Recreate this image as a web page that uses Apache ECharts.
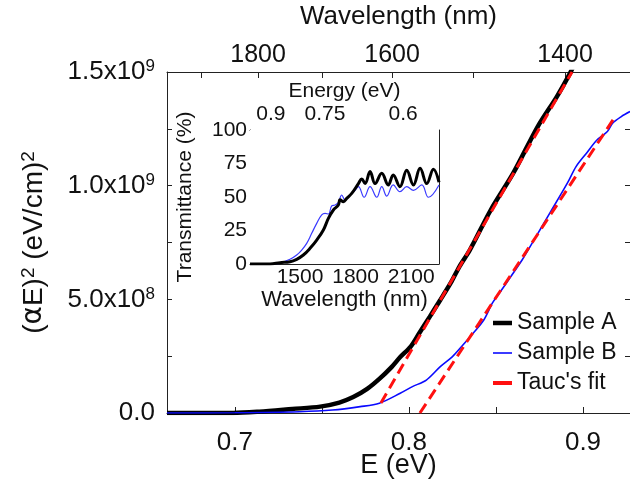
<!DOCTYPE html>
<html>
<head>
<meta charset="UTF-8">
<title>Tauc plot</title>
<script src="https://cdn.jsdelivr.net/npm/echarts@6/dist/echarts.min.js"></script>
<style>
html, body { margin: 0; padding: 0; background: #fff; }
#chart { width: 630px; height: 482px; }
</style>
</head>
<body>
<div id="chart"></div>
<script>
// main plot, Sample A
var aE   = [0.661, 0.699, 0.714, 0.733, 0.749, 0.760, 0.768, 0.776, 0.783, 0.790, 0.795, 0.801, 0.806, 0.812, 0.818, 0.824, 0.829, 0.835, 0.847, 0.860, 0.874, 0.885, 0.8925, 0.896];
var aVal = [0, 0, 5.7e6, 1.76e7, 2.8e7, 4.6e7, 7.0e7, 1.06e8, 1.50e8, 2.02e8, 2.46e8, 2.92e8, 3.52e8, 4.24e8, 4.97e8, 5.72e8, 6.44e8, 7.17e8, 8.93e8, 1.056e9, 1.26e9, 1.392e9, 1.494e9, 1.55e9];
// main plot, Sample B
var bE   = [0.661, 0.700, 0.737, 0.756, 0.772, 0.783, 0.795, 0.802, 0.810, 0.818, 0.825, 0.831, 0.837, 0.843, 0.848, 0.852, 0.865, 0.873, 0.881, 0.891, 0.896, 0.902, 0.908, 0.914, 0.917, 0.922, 0.927];
var bVal = [0, 1e6, 5.7e6, 1.3e7, 2.8e7, 4.3e7, 8.7e7, 1.16e8, 1.45e8, 2.04e8, 2.48e8, 2.99e8, 3.52e8, 4.09e8, 4.84e8, 5.28e8, 6.73e8, 7.76e8, 8.80e8, 1.011e9, 1.084e9, 1.143e9, 1.201e9, 1.238e9, 1.275e9, 1.304e9, 1.326e9];
// Tauc fits
var fitAE = [0.7839, 0.8937];
var fitAVal = [4.4e7, 1.5e9];
var fitBE = [0.8063, 0.919];
var fitBVal = [0, 1.31e9];

// tick labels
var xLabels = [0.7, 0.8, 0.9];
var xTicks = [0.7, 0.75, 0.8, 0.85, 0.9];
var yLabels = [0, 5e8, 1e9, 1.5e9];
var topWl = [1900, 1800, 1700, 1600, 1500, 1400];
var topE  = [0.6805, 0.7133, 0.7500, 0.7903, 0.8368, 0.8897];
var topLabelWl = [1800, 1600, 1400];

// inset: transmittance vs wavelength
var insA_L = [1230, 1338, 1392, 1446, 1482, 1518, 1554, 1590, 1626, 1653, 1680, 1707, 1716, 1734, 1752, 1779, 1815, 1833, 1851, 1878, 1905, 1941, 1976, 2003, 2039, 2076, 2112, 2148, 2184, 2220, 2250];
var insA_T = [0, 0, 1, 1.7, 3.5, 6.7, 11.7, 17.9, 25.4, 34, 40.3, 44, 48, 46.5, 49, 52.7, 60, 63.5, 60, 69, 60, 67.7, 59, 66.4, 57.7, 70, 59, 71.4, 60, 70.7, 61];
var insB_L = [1230, 1374, 1410, 1446, 1482, 1509, 1536, 1563, 1590, 1617, 1635, 1653, 1671, 1689, 1707, 1725, 1743, 1770, 1797, 1815, 1846, 1878, 1914, 1941, 1968, 2003, 2039, 2076, 2112, 2157, 2193, 2250];
var insB_T = [0, 0, 1.7, 3.5, 6.7, 10.4, 15.4, 22.9, 30.3, 36.6, 37.8, 37.3, 43.3, 44, 46, 51.5, 47.8, 51.5, 55, 57.7, 49.8, 57.7, 49.8, 57.7, 50.7, 59, 54, 57.7, 55, 59, 49.8, 59];
var insTLabels = [0, 25, 50, 75, 100];
var insXLabels = [1500, 1800, 2100];
var insEnergy = [0.9, 0.75, 0.6];
var insEnergyWl = [1343, 1635, 2056];

function zip(xs, ys) {
	return xs.map(function (x, i) { return [x, ys[i]]; });
}

function sci(v) {
	if (v === 0) return '{b|0.0}';
	var e = Math.floor(Math.log10(v) + 1e-9);
	var m = (v / Math.pow(10, e)).toFixed(1);
	return '{b|' + m + 'x10}{s|' + e + '}';
}

function nearest(list, v) {
	var best = 0;
	for (var i = 0; i < list.length; i++) {
		if (Math.abs(list[i] - v) < Math.abs(list[best] - v)) best = i;
	}
	return best;
}

var FONT = 'Liberation Sans, Arial, sans-serif';
var rich = {
	b: { fontSize: 26, fontFamily: FONT, color: '#111', lineHeight: 28 },
	s: { fontSize: 17, fontFamily: FONT, color: '#111', verticalAlign: 'top', lineHeight: 28 }
};
var richName = {
	b: { fontSize: 28, fontFamily: FONT, color: '#111', lineHeight: 30 },
	a: { fontSize: 28, fontFamily: 'DejaVu Sans', color: '#111', lineHeight: 30 },
	s: { fontSize: 19, fontFamily: FONT, color: '#111', verticalAlign: 'top', lineHeight: 30 }
};
var lineCol = '#222';
var axLine = { show: true, onZero: false, lineStyle: { color: lineCol, width: 1 } };

var chart = echarts.init(document.getElementById('chart'), null, { renderer: 'canvas' });

chart.setOption({
	animation: false,
	backgroundColor: '#fff',
	grid: [
		{ left: 167, top: 72, width: 463, height: 341, show: false, containLabel: false, outerBoundsMode: 'none' },
		{ left: 250, top: 130, width: 189, height: 134, show: true, backgroundColor: '#fff', borderWidth: 0, z: 5,
			containLabel: false, outerBoundsMode: 'none' }
	],
	legend: {
		orient: 'vertical',
		left: 493,
		top: 311,
		padding: 0,
		itemWidth: 19,
		itemHeight: 14,
		itemGap: 6,
		textStyle: { fontSize: 23, lineHeight: 24, color: '#111', fontFamily: FONT },
		data: [
			{ name: 'Sample A', icon: 'path://M0,0H19V4.5H0Z' },
			{ name: 'Sample B', icon: 'path://M0,0H19V1.6H0Z' },
			{ name: "Tauc's fit", icon: 'path://M0,0H19V4H0Z' }
		]
	},
	xAxis: [
		{
			type: 'value', gridIndex: 0, min: 0.661, max: 0.927, position: 'bottom',
			name: 'E (eV)', nameLocation: 'middle', nameGap: 39, nameMoveOverlap: false,
			nameTextStyle: { fontSize: 27, fontFamily: FONT, color: '#111' },
			axisLine: axLine,
			axisTick: { inside: true, length: 6, customValues: xTicks, lineStyle: { color: lineCol } },
			axisLabel: { customValues: xLabels, margin: 17, fontSize: 26, fontFamily: FONT, color: '#111',
				formatter: function (v) { return v.toFixed(1); } },
			splitLine: { show: false }
		},
		{
			type: 'value', gridIndex: 0, min: 0.661, max: 0.927, position: 'top',
			name: 'Wavelength (nm)', nameLocation: 'middle', nameGap: 42, nameMoveOverlap: false,
			nameTextStyle: { fontSize: 26, fontFamily: FONT, color: '#111' },
			axisLine: axLine,
			axisTick: { inside: true, length: 6, customValues: topE, lineStyle: { color: lineCol } },
			axisLabel: {
				customValues: topLabelWl.map(function (w) { return topE[topWl.indexOf(w)]; }),
				margin: 4, fontSize: 25, fontFamily: FONT, color: '#111',
				formatter: function (v) { return String(topWl[nearest(topE, v)]); }
			},
			splitLine: { show: false }
		},
		{
			type: 'value', gridIndex: 1, min: 1230, max: 2250, position: 'bottom',
			name: 'Wavelength (nm)', nameLocation: 'middle', nameGap: 25, nameMoveOverlap: false,
			nameTextStyle: { fontSize: 22, fontFamily: FONT, color: '#111' },
			axisLine: axLine,
			axisTick: { inside: true, length: 4, customValues: insXLabels, lineStyle: { color: lineCol } },
			axisLabel: { customValues: insXLabels, margin: 3, fontSize: 21, fontFamily: FONT, color: '#111',
				formatter: function (v) { return String(v); } },
			splitLine: { show: false }
		},
		{
			type: 'value', gridIndex: 1, min: 1230, max: 2250, position: 'top',
			name: 'Energy (eV)', nameLocation: 'middle', nameGap: 28, nameMoveOverlap: false,
			nameTextStyle: { fontSize: 21, fontFamily: FONT, color: '#111' },
			axisLine: axLine,
			axisTick: { show: false },
			axisLabel: {
				customValues: insEnergyWl, margin: 5, fontSize: 21, fontFamily: FONT, color: '#111',
				formatter: function (v) { return String(insEnergy[nearest(insEnergyWl, v)]); }
			},
			splitLine: { show: false }
		}
	],
	yAxis: [
		{
			type: 'value', gridIndex: 0, min: 0, max: 1.5e9, interval: 2.5e8, position: 'left',
			name: '{b|(}{a|α}{b|E)}{s|2}{b| (eV/cm)}{s|2}', nameLocation: 'middle', nameGap: 118, nameRotate: 90,
			nameMoveOverlap: false,
			nameTextStyle: { rich: richName },
			axisLine: axLine,
			axisTick: { inside: true, length: 5, lineStyle: { color: lineCol } },
			axisLabel: { customValues: yLabels, margin: 12, formatter: sci, rich: rich },
			splitLine: { show: false }
		},
		{
			type: 'value', gridIndex: 0, min: 0, max: 1.5e9, interval: 2.5e8, position: 'right',
			axisLine: axLine,
			axisTick: { inside: true, length: 5, lineStyle: { color: lineCol } },
			axisLabel: { show: false },
			splitLine: { show: false }
		},
		{
			type: 'value', gridIndex: 1, min: 0, max: 100, interval: 12.5, position: 'left',
			name: 'Transmittance (%)', nameLocation: 'middle', nameGap: 54, nameRotate: 90,
			nameMoveOverlap: false,
			nameTextStyle: { fontSize: 21, fontFamily: FONT, color: '#111' },
			axisLine: axLine,
			axisTick: { inside: true, length: 3, lineStyle: { color: lineCol } },
			axisLabel: { customValues: insTLabels, margin: 3, fontSize: 21, fontFamily: FONT, color: '#111' },
			splitLine: { show: false }
		},
		{
			type: 'value', gridIndex: 1, min: 0, max: 100, interval: 12.5, position: 'right',
			axisLine: axLine,
			axisTick: { inside: true, length: 3, lineStyle: { color: lineCol } },
			axisLabel: { show: false },
			splitLine: { show: false }
		}
	],
	series: [
		{
			name: 'Sample A', type: 'line', xAxisIndex: 0, yAxisIndex: 0,
			data: zip(aE, aVal), showSymbol: false, symbol: 'none', smooth: 0.3,
			lineStyle: { color: '#000', width: 4.5 }, itemStyle: { color: '#000' }, z: 2
		},
		{
			name: 'Sample B', type: 'line', xAxisIndex: 0, yAxisIndex: 0,
			data: zip(bE, bVal), showSymbol: false, symbol: 'none', smooth: 0.3,
			lineStyle: { color: '#0a0aff', width: 1.6 }, itemStyle: { color: '#0a0aff' }, z: 3
		},
		{
			name: "Tauc's fit", type: 'line', xAxisIndex: 0, yAxisIndex: 0,
			data: zip(fitAE, fitAVal), showSymbol: false, symbol: 'none',
			lineStyle: { color: '#ff1010', width: 3, type: [11, 6] }, itemStyle: { color: '#ff1010' }, z: 4
		},
		{
			name: "Tauc's fit", type: 'line', xAxisIndex: 0, yAxisIndex: 0,
			data: zip(fitBE, fitBVal), showSymbol: false, symbol: 'none',
			lineStyle: { color: '#ff1010', width: 3, type: [11, 6] }, itemStyle: { color: '#ff1010' }, z: 4
		},
		{
			name: 'inset B', type: 'line', xAxisIndex: 2, yAxisIndex: 2,
			data: zip(insB_L, insB_T), showSymbol: false, symbol: 'none', smooth: 0.4,
			lineStyle: { color: '#3a3aff', width: 1.2 }, z: 6
		},
		{
			name: 'inset A', type: 'line', xAxisIndex: 2, yAxisIndex: 2,
			data: zip(insA_L, insA_T), showSymbol: false, symbol: 'none', smooth: 0.4,
			lineStyle: { color: '#000', width: 3 }, z: 7
		}
	]
});
</script>
</body>
</html>
